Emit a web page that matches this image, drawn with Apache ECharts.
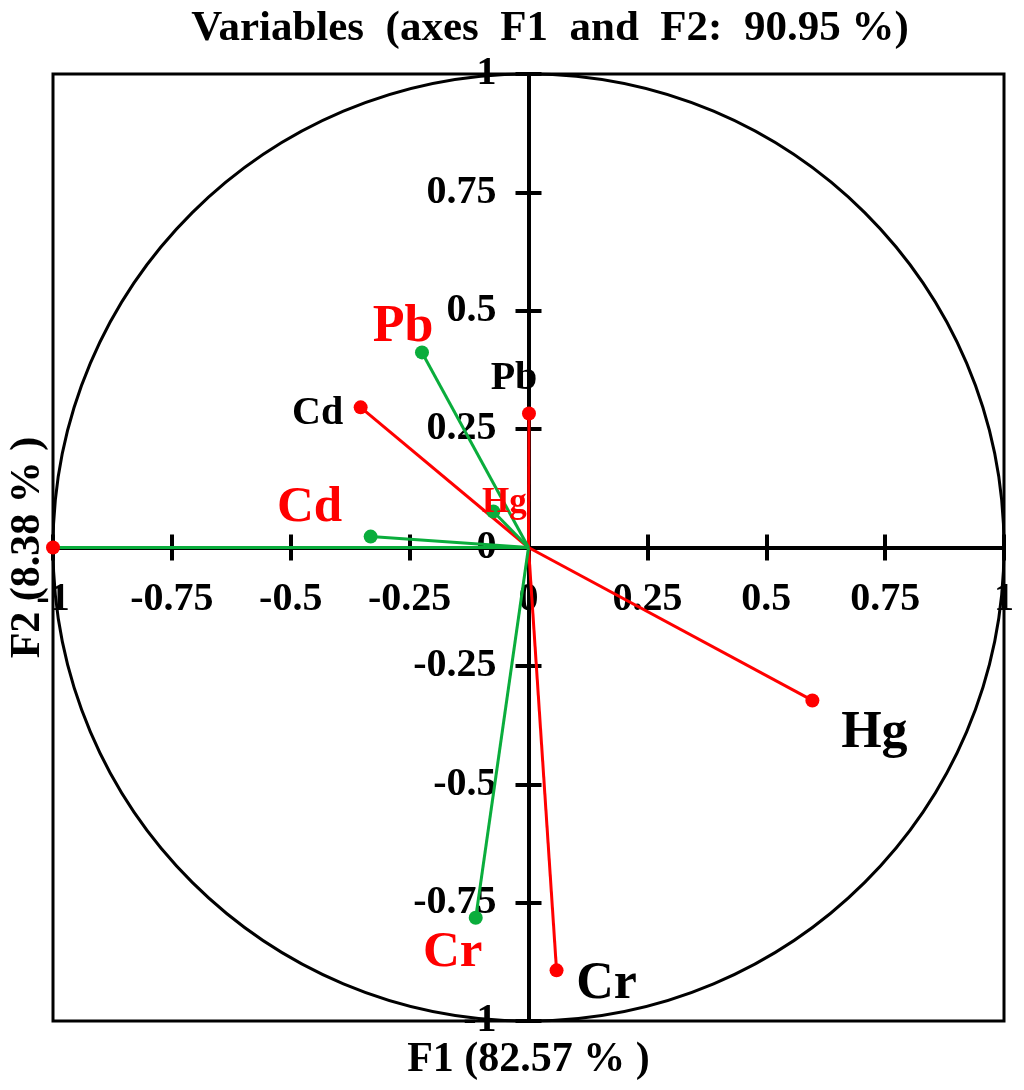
<!DOCTYPE html>
<html>
<head>
<meta charset="utf-8">
<script src="https://cdn.jsdelivr.net/npm/echarts@6/dist/echarts.min.js"></script>
<style>
  html, body { margin: 0; padding: 0; background: #fff; }
  #chart { width: 1024px; height: 1090px; }
</style>
</head>
<body>
<div id="chart"></div>
<script>
// ---- data ----
const titleText = 'Variables  (axes  F1  and  F2:  90.95 %)';
const xAxisName = 'F1 (82.57 % )';
const yAxisName = 'F2 (8.38 % )';
const tickValues = [-1, -0.75, -0.5, -0.25, 0, 0.25, 0.5, 0.75, 1];
const tickLabels = ['-1', '-0.75', '-0.5', '-0.25', '0', '0.25', '0.5', '0.75', '1'];

const variables = ['Cd', 'Pb', 'Hg', 'Cr'];
// red vectors (black labels)
const redF1 = [-0.353, 0.001, 0.597, 0.059];
const redF2 = [0.296, 0.283, -0.323, -0.893];
// green vectors (red labels)
const greenF1 = [-0.332, -0.224, -0.074, -0.111];
const greenF2 = [0.023, 0.412, 0.076, -0.782];
// extra unlabeled vector (green line, red dot)
const extraF1 = [-1];
const extraF2 = [0];

// ---- styling / layout ----
const RED = '#ff0000';
const GREEN = '#0aad3c';
const FONT = 'Liberation Serif';
const GRID = { left: 53, top: 74, right: 20, bottom: 69 };
const GRID_W = 1024 - GRID.left - GRID.right;
const GRID_H = 1090 - GRID.top - GRID.bottom;

const redLabelStyle = [
  { size: 40, offset: [-43, 6] },
  { size: 40, offset: [-15, -35] },
  { size: 52, offset: [62, 33] },
  { size: 52, offset: [50, 14] }
];
const greenLabelStyle = [
  { size: 51, offset: [-61, -29] },
  { size: 52, offset: [-19, -25] },
  { size: 35, offset: [11, -9] },
  { size: 51, offset: [-23, 35] }
];

function vector(name, x, y, lineColor, dotColor, lab, labColor) {
  return {
    type: 'line',
    name: name,
    xAxisIndex: 0, yAxisIndex: 0,
    z: 3,
    silent: true,
    symbol: 'circle',
    symbolSize: 14,
    showSymbol: true,
    lineStyle: { color: lineColor, width: 3 },
    itemStyle: { color: dotColor },
    emphasis: { disabled: true },
    data: [
      { value: [0, 0], symbol: 'none' },
      {
        value: [x, y],
        label: lab ? {
          show: true,
          position: 'inside',
          offset: lab.offset,
          formatter: name,
          color: labColor,
          fontSize: lab.size,
          fontWeight: 'bold',
          fontFamily: FONT,
          align: 'center',
          verticalAlign: 'middle'
        } : { show: false }
      }
    ]
  };
}

const series = [];
series.push({
  type: 'custom',
  xAxisIndex: 0, yAxisIndex: 0,
  silent: true,
  z: 1,
  data: [[0, 0]],
  renderItem: function (params, api) {
    const c = api.coord([0, 0]);
    const s = api.size([1, 1]);
    return {
      type: 'ellipse',
      shape: { cx: c[0], cy: c[1], rx: s[0], ry: s[1] },
      style: { stroke: '#000', lineWidth: 3, fill: null }
    };
  }
});
for (let i = 0; i < extraF1.length; i++) {
  series.push(vector('', extraF1[i], extraF2[i], GREEN, RED, null, null));
}
for (let i = 0; i < variables.length; i++) {
  series.push(vector(variables[i], redF1[i], redF2[i], RED, RED, redLabelStyle[i], '#000'));
}
for (let i = 0; i < variables.length; i++) {
  series.push(vector(variables[i], greenF1[i], greenF2[i], GREEN, GREEN, greenLabelStyle[i], RED));
}

function fmt(v) {
  const i = tickValues.findIndex(t => Math.abs(t - v) < 1e-9);
  return i >= 0 ? tickLabels[i] : '';
}

const labelFont = { fontSize: 40, fontWeight: 'bold', fontFamily: FONT, color: '#000' };
const lineStyle = { color: '#000', width: 4 };
const nameFont = { fontSize: 42, fontWeight: 'bold', fontFamily: FONT, color: '#000' };

const option = {
  animation: false,
  backgroundColor: '#fff',
  title: {
    text: titleText,
    left: 545,
    top: 2,
    textAlign: 'center',
    textStyle: { fontSize: 43, fontWeight: 'bold', fontFamily: FONT, color: '#000' }
  },
  grid: {
    left: GRID.left, top: GRID.top, right: GRID.right, bottom: GRID.bottom,
    show: true, borderColor: '#000', borderWidth: 3,
    containLabel: false,
    outerBoundsMode: 'none'
  },
  xAxis: [
    {
      type: 'value', min: -1, max: 1, interval: 0.25, position: 'bottom',
      offset: -GRID_H / 2,
      axisLine: { onZero: false, lineStyle: lineStyle },
      axisTick: { show: true, length: 13, lineStyle: lineStyle },
      axisLabel: Object.assign({ margin: 32, formatter: fmt }, labelFont),
      splitLine: { show: false }
    },
    {
      type: 'value', min: -1, max: 1, interval: 0.25, position: 'bottom',
      offset: -GRID_H / 2,
      axisLine: { show: false, onZero: false },
      axisTick: { show: true, inside: true, length: 13, lineStyle: lineStyle },
      axisLabel: { show: false },
      splitLine: { show: false }
    },
    {
      type: 'value', min: -1, max: 1, position: 'bottom',
      axisLine: { show: false, onZero: false },
      axisTick: { show: false },
      axisLabel: { show: false },
      splitLine: { show: false },
      name: xAxisName,
      nameLocation: 'middle',
      nameGap: 18,
      nameTextStyle: nameFont
    }
  ],
  yAxis: [
    {
      type: 'value', min: -1, max: 1, interval: 0.25, position: 'left',
      offset: -GRID_W / 2,
      axisLine: { onZero: false, lineStyle: lineStyle },
      axisTick: { show: true, length: 13, lineStyle: lineStyle },
      axisLabel: Object.assign({ margin: 32, formatter: fmt }, labelFont),
      splitLine: { show: false }
    },
    {
      type: 'value', min: -1, max: 1, interval: 0.25, position: 'left',
      offset: -GRID_W / 2,
      axisLine: { show: false, onZero: false },
      axisTick: { show: true, inside: true, length: 13, lineStyle: lineStyle },
      axisLabel: { show: false },
      splitLine: { show: false }
    },
    {
      type: 'value', min: -1, max: 1, position: 'left',
      axisLine: { show: false, onZero: false },
      axisTick: { show: false },
      axisLabel: { show: false },
      splitLine: { show: false },
      name: yAxisName,
      nameLocation: 'middle',
      nameGap: 4,
      nameTextStyle: nameFont
    }
  ],
  series: series
};

const chart = echarts.init(document.getElementById('chart'), null, { renderer: 'canvas' });
chart.setOption(option);
</script>
</body>
</html>
